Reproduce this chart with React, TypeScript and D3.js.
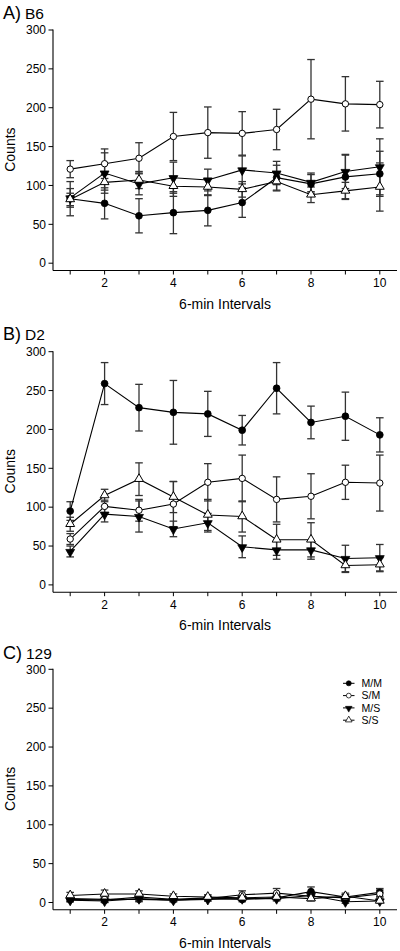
import React from 'react';
import * as d3 from 'd3';

// ---------- data ----------
const intervals = [1, 2, 3, 4, 5, 6, 7, 8, 9, 10];
const xTickLabels = [2, 4, 6, 8, 10];
const yTicks = [0, 50, 100, 150, 200, 250, 300];
const seriesNames = ['M/M', 'S/M', 'M/S', 'S/S'];
const panelLetters = ['A)', 'B)', 'C)'];
const panelStrains = ['B6', 'D2', '129'];
const xTitle = '6-min Intervals';
const yTitle = 'Counts';

// Panel A: B6
const b6MM = [83, 77, 61, 65, 68, 78, 110, 102, 111, 115];
const b6MMErr = [22, 20, 22, 27, 20, 19, 16, 12, 28, 29];
const b6SM = [121, 128, 135, 163, 168, 167, 172, 211, 205, 204];
const b6SMErr = [11, 19, 20, 31, 33, 28, 26, 51, 35, 30];
const b6MS = [84, 116, 102, 110, 107, 120, 116, 104, 118, 124];
const b6MSErr = [12, 26, 14, 20, 14, 18, 15, 12, 22, 36];
const b6SS = [82, 104, 107, 99, 98, 95, 105, 88, 93, 98];
const b6SSErr = [8, 10, 11, 13, 11, 10, 12, 10, 11, 31];

// Panel B: D2
const d2MM = [95, 259, 228, 222, 220, 199, 253, 209, 217, 193];
const d2MMErr = [12, 27, 30, 41, 29, 19, 33, 21, 31, 22];
const d2SM = [59, 101, 96, 104, 132, 137, 110, 114, 132, 131];
const d2SMErr = [7, 8, 14, 29, 24, 30, 29, 29, 22, 36];
const d2MS = [43, 91, 88, 72, 80, 49, 45, 45, 34, 35];
const d2MSErr = [7, 10, 20, 10, 12, 14, 12, 12, 17, 17];
const d2SS = [78, 115, 136, 113, 90, 88, 58, 58, 25, 26];
const d2SSErr = [9, 8, 21, 20, 20, 20, 20, 22, 9, 9];

// Panel C: 129
const s129MM = [4, 3, 7, 4, 6, 4, 6, 14, 7, 13];
const s129MMErr = [3, 3, 3, 2, 2, 3, 3, 6, 3, 5];
const s129SM = [5, 4, 4, 3, 5, 10, 12, 8, 6, 11];
const s129SMErr = [3, 3, 3, 2, 3, 5, 6, 4, 4, 5];
const s129MS = [3, 2, 5, 3, 4, 5, 5, 9, 1, 2];
const s129MSErr = [2, 2, 3, 2, 2, 2, 3, 4, 2, 2];
const s129SS = [9, 11, 11, 8, 7, 6, 7, 5, 8, 2];
const s129SSErr = [4, 5, 4, 3, 3, 3, 3, 3, 4, 2];

const panelData = [
  [[b6MM, b6MMErr], [b6SM, b6SMErr], [b6MS, b6MSErr], [b6SS, b6SSErr]],
  [[d2MM, d2MMErr], [d2SM, d2SMErr], [d2MS, d2MSErr], [d2SS, d2SSErr]],
  [[s129MM, s129MMErr], [s129SM, s129SMErr], [s129MS, s129MSErr], [s129SS, s129SSErr]],
];

// ---------- layout ----------
const W = 400;
const H = 951;
const FONT = '"Liberation Sans", Arial, Helvetica, sans-serif';
const panelTops = [30, 351.7, 669.3];
const titleBaselines = [19.3, 339.5, 659.3];
const plotH = 233.2;
const axisDrop = 7.3;
const xLeft = 53;
const xRight = 397;

const xScale = d3.scaleLinear().domain([0.5, 10.5]).range([xLeft, xRight]);

const triUp = d3.symbol().type(d3.symbolTriangle).size(34)() as string;

function Marker({ kind, x, y }: { kind: number; x: number; y: number }) {
  if (kind === 0) return <circle cx={x} cy={y} r={3.4} fill="#000" stroke="#000" strokeWidth={0.8} />;
  if (kind === 1) return <circle cx={x} cy={y} r={3.2} fill="#fff" stroke="#000" strokeWidth={1} />;
  if (kind === 2)
    return <path d={triUp} transform={`translate(${x},${y + 0.5}) rotate(180)`} fill="#000" stroke="#000" strokeWidth={0.8} />;
  return <path d={triUp} transform={`translate(${x},${y - 0.3})`} fill="#fff" stroke="#000" strokeWidth={1} />;
}

function Panel({ idx }: { idx: number }) {
  const top = panelTops[idx];
  const y = d3.scaleLinear().domain([0, 300]).range([top + plotH, top]);
  const axisY = top + plotH + axisDrop;
  const line = d3
    .line<number>()
    .x((_, i) => xScale(intervals[i]))
    .y((v) => y(v));
  const series = panelData[idx];
  return (
    <g>
      <text x={3} y={titleBaselines[idx]} fontFamily={FONT} fill="#000">
        <tspan fontSize={18}>{panelLetters[idx]}</tspan>
        <tspan fontSize={15.5} dx={4}>{panelStrains[idx]}</tspan>
      </text>
      {/* axes */}
      <line x1={xLeft} x2={xLeft} y1={top - 0.5} y2={axisY} stroke="#000" strokeWidth={1.1} />
      <line x1={xLeft} x2={xRight} y1={axisY} y2={axisY} stroke="#000" strokeWidth={1.1} />
      {yTicks.map((t) => (
        <g key={t}>
          <line x1={xLeft - 4.5} x2={xLeft} y1={y(t)} y2={y(t)} stroke="#000" strokeWidth={1} />
          <text x={xLeft - 7} y={y(t)} dy="0.35em" textAnchor="end" fontSize={12} fontFamily={FONT} fill="#000">
            {t}
          </text>
        </g>
      ))}
      {intervals.map((t) => (
        <line key={t} x1={xScale(t)} x2={xScale(t)} y1={axisY} y2={axisY + 4} stroke="#000" strokeWidth={1} />
      ))}
      {xTickLabels.map((t) => (
        <text key={t} x={xScale(t)} y={axisY + 16.5} textAnchor="middle" fontSize={12} fontFamily={FONT} fill="#000">
          {t}
        </text>
      ))}
      <text x={xScale(5.5)} y={axisY + 38} textAnchor="middle" fontSize={14} fontFamily={FONT} fill="#000">
        {xTitle}
      </text>
      <text
        transform={`translate(15,${top + plotH / 2 + 3}) rotate(-90)`}
        textAnchor="middle"
        fontSize={14}
        fontFamily={FONT}
        fill="#000"
      >
        {yTitle}
      </text>
      {/* series */}
      {series.map(([vals, errs], s) => (
        <g key={s}>
          {vals.map((v, i) => {
            const cx = xScale(intervals[i]);
            const e = errs[i];
            return (
              <g key={i} stroke="#333" strokeWidth={1.3}>
                <line x1={cx} x2={cx} y1={y(v - e)} y2={y(v + e)} />
                <line x1={cx - 3.8} x2={cx + 3.8} y1={y(v + e)} y2={y(v + e)} />
                <line x1={cx - 3.8} x2={cx + 3.8} y1={y(v - e)} y2={y(v - e)} />
              </g>
            );
          })}
        </g>
      ))}
      {series.map(([vals], s) => (
        <g key={s}>
          <path d={line(vals) as string} fill="none" stroke="#000" strokeWidth={1.1} />
          {vals.map((v, i) => (
            <Marker key={i} kind={s} x={xScale(intervals[i])} y={y(v)} />
          ))}
        </g>
      ))}
    </g>
  );
}

function Legend() {
  const x0 = 343;
  const x1 = 354.5;
  const rows = [683.3, 695.6, 707.9, 720.2];
  return (
    <g>
      {seriesNames.map((name, i) => (
        <g key={name}>
          <line x1={x0} x2={x1} y1={rows[i]} y2={rows[i]} stroke="#000" strokeWidth={1} />
          <g transform={`translate(${(x0 + x1) / 2},${rows[i]}) scale(0.75) translate(${-(x0 + x1) / 2},${-rows[i]})`}>
            <Marker kind={i} x={(x0 + x1) / 2} y={rows[i]} />
          </g>
          <text x={361.5} y={rows[i]} dy="0.36em" fontSize={10.5} fontFamily={FONT} fill="#000">
            {name}
          </text>
        </g>
      ))}
    </g>
  );
}

export default function App() {
  return (
    <svg
      width={W}
      height={H}
      viewBox={`0 0 ${W} ${H}`}
      style={{ position: 'absolute', left: 0, top: 0, background: '#fff' }}
    >
      <rect width={W} height={H} fill="#fff" />
      {[0, 1, 2].map((i) => (
        <Panel key={i} idx={i} />
      ))}
      <Legend />
    </svg>
  );
}
